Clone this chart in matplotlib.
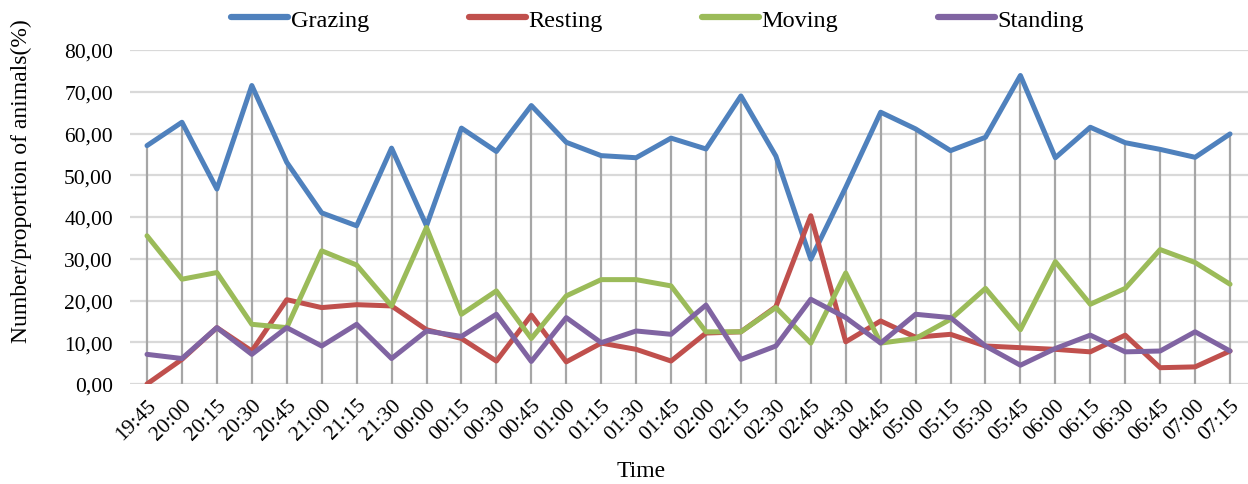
import matplotlib
matplotlib.use("Agg")
import matplotlib.pyplot as plt
import numpy as np
from matplotlib.ticker import FuncFormatter

times = ["19:45", "20:00", "20:15", "20:30", "20:45", "21:00", "21:15", "21:30",
         "00:00", "00:15", "00:30", "00:45", "01:00", "01:15", "01:30", "01:45",
         "02:00", "02:15", "02:30", "02:45", "04:30", "04:45", "05:00", "05:15",
         "05:30", "05:45", "06:00", "06:15", "06:30", "06:45", "07:00", "07:15"]

grazing = [57.1, 62.7, 46.7, 71.5, 53.1, 41.0, 37.9, 56.5, 37.9, 61.3, 55.7, 66.7,
           57.9, 54.7, 54.2, 58.9, 56.3, 69.0, 54.6, 29.9, 47.1, 65.1, 61.1, 55.9,
           59.1, 73.9, 54.2, 61.5, 57.8, 56.2, 54.3, 59.9]
resting = [0.0, 5.9, 13.5, 7.9, 20.2, 18.3, 19.0, 18.7, 13.0, 10.9, 5.5, 16.5,
           5.3, 9.8, 8.3, 5.5, 12.2, 12.5, 18.5, 40.3, 10.1, 15.1, 11.2, 11.9,
           9.1, 8.7, 8.3, 7.7, 11.7, 3.9, 4.1, 7.9]
moving = [35.5, 25.1, 26.7, 14.3, 13.5, 31.9, 28.5, 18.7, 37.5, 16.7, 22.3, 10.9,
          21.1, 25.0, 25.0, 23.5, 12.5, 12.5, 18.3, 9.8, 26.6, 9.8, 10.9, 15.5,
          22.9, 13.0, 29.3, 19.1, 22.9, 32.2, 29.1, 23.9]
standing = [7.1, 6.1, 13.5, 7.1, 13.5, 9.1, 14.3, 6.1, 12.7, 11.4, 16.7, 5.4,
            15.9, 9.9, 12.7, 11.9, 18.9, 5.9, 9.1, 20.3, 15.9, 9.8, 16.7, 15.9,
            9.1, 4.5, 8.5, 11.7, 7.7, 7.9, 12.5, 7.9]

series = [("Grazing", grazing, "#4F81BD"), ("Resting", resting, "#C0504D"),
          ("Moving", moving, "#9BBB59"), ("Standing", standing, "#8064A2")]

plt.rcParams['font.family'] = ['Liberation Serif', 'DejaVu Serif']

fig = plt.figure(figsize=(12.48, 4.85), dpi=100)
ax = fig.add_axes([0.1038, 0.2062, 0.8958, 0.6886])

x = np.arange(len(times))
tops = np.max(np.array([grazing, resting, moving, standing]), axis=0)
ax.vlines(x, 0, tops, colors="#A6A6A6", linewidth=1.6, zorder=2)

for name, vals, col in series:
    ax.plot(x, vals, color=col, linewidth=3.6, label=name, zorder=3,
            solid_joinstyle='round', solid_capstyle='round')

ax.set_xlim(-0.5, len(times) - 0.5)
ax.set_ylim(0, 80)
ax.set_yticks(np.arange(0, 81, 10))
ax.yaxis.set_major_formatter(FuncFormatter(lambda v, p: f"{v:.2f}".replace(".", ",")))
ax.grid(axis='y', color="#D9D9D9", linewidth=1.6, zorder=0)
ax.set_axisbelow(True)
for s in ax.spines.values():
    s.set_visible(False)
ax.tick_params(axis='y', length=0, labelsize=15.5, pad=12)
ax.tick_params(axis='x', length=0, labelsize=15.5, pad=8)
ax.set_xticks(x)
ax.set_xticklabels(times, rotation=45, ha='right', rotation_mode='anchor')
ax.set_xlabel("Time", fontsize=17)
ax.xaxis.set_label_coords(0.4575, -0.228)
ax.set_ylabel("Number/proportion of animals(%)", fontsize=17)
ax.yaxis.set_label_coords(-0.087, 0.609)

leg = fig.legend(loc='center', bbox_to_anchor=(0.527, 0.957), ncol=4, frameon=False,
                 fontsize=17.5, handlelength=2.35, columnspacing=4.1, handletextpad=0.1)
for h in leg.legend_handles:
    h.set_linewidth(4.5)
    h.set_solid_capstyle('round')

fig.savefig("out.png", dpi=100)
